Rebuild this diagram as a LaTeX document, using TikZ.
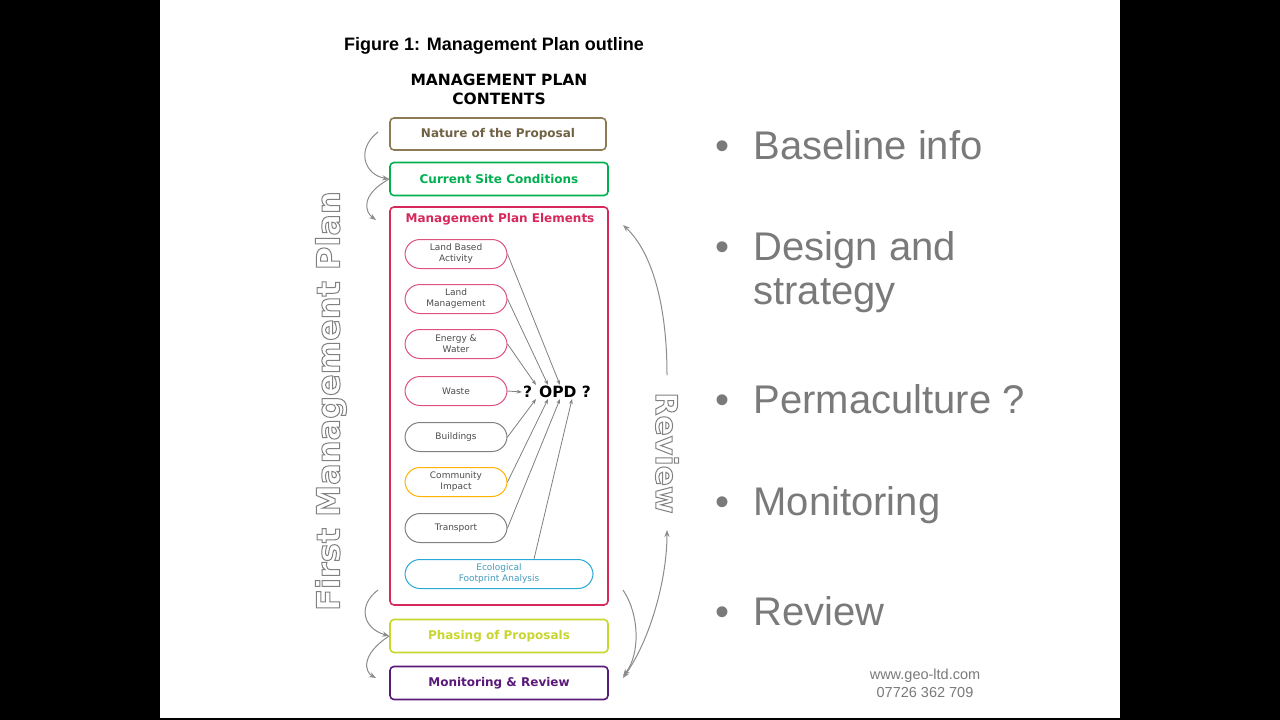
\documentclass[tikz,border=0pt]{standalone}
\usepackage{fontspec}
\setmainfont{Liberation Sans}
\newfontfamily\dejavu{DejaVu Sans}
\usetikzlibrary{arrows.meta}
\definecolor{natbrown}{HTML}{8C7B55}
\definecolor{sitegreen}{HTML}{00B050}
\definecolor{mpred}{HTML}{D6285A}
\definecolor{phyellow}{HTML}{C8D630}
\definecolor{monpurple}{HTML}{5A1A7A}
\definecolor{ecoblue}{HTML}{2AA8D8}
\definecolor{slidegray}{HTML}{7A7A7A}
\newcommand{\hollow}[1]{\special{pdf:literal direct 1 Tr 1 w}#1\special{pdf:literal direct 0 Tr}}
\begin{document}
\begin{tikzpicture}[x=1pt,y=-1pt]
\tikzset{section/.style={draw,rounded corners=4pt,line width=1.6pt,minimum width=216pt,minimum height=33pt,font=\dejavu\fontsize{12}{14}\selectfont\bfseries},
         element/.style={draw,rounded corners=15pt,line width=1pt,minimum width=102pt,minimum height=29pt,align=center,inner sep=1pt,font=\dejavu\fontsize{9}{11}\selectfont,text=black!70},
         feed/.style={draw=gray,-{Stealth[length=5pt]},line width=0.8pt},
         loop/.style={draw=gray!90,-{Stealth[length=7pt]},line width=1pt},
         point/.style={font=\fontsize{40}{44}\selectfont,text=slidegray,anchor=west,align=left}}
\fill[black] (0,0) rectangle (1280,720);
\fill[white] (160,0) rectangle (1120,718);
% heading
\node[font=\bfseries\fontsize{18}{20}\selectfont] (fig) at (494,46) {Figure 1: Management Plan outline};
\node[font=\dejavu\bfseries\fontsize{15.5}{19}\selectfont,align=center] (cont) at (499,89) {MANAGEMENT PLAN\\CONTENTS};
% sections
\node[section,draw=natbrown,text=natbrown!80!black,minimum height=32pt] (nat) at (498,134) {Nature of the Proposal};
\node[section,draw=sitegreen,text=sitegreen,minimum width=218pt] (site) at (499,179) {Current Site Conditions};
\draw[mpred,line width=1.6pt,rounded corners=4pt] (390,207) rectangle (608,605);
\node[font=\dejavu\fontsize{12}{14}\selectfont\bfseries,text=mpred] (mpe) at (500,219) {Management Plan Elements};
\node[section,draw=phyellow,text=phyellow,minimum width=218pt] (phase) at (499,636) {Phasing of Proposals};
\node[section,draw=monpurple,text=monpurple,minimum width=218pt] (mon) at (499,683) {Monitoring \& Review};
% elements
\node[element,draw=mpred!80] (lba) at (456,254) {Land Based\\Activity};
\node[element,draw=mpred!80] (lm) at (456,299) {Land\\Management};
\node[element,draw=mpred!80] (ew) at (456,344) {Energy \&\\Water};
\node[element,draw=mpred!80] (waste) at (456,391) {Waste};
\node[element,draw=gray] (bld) at (456,437) {Buildings};
\node[element,draw=orange!60!yellow] (ci) at (456,482) {Community\\Impact};
\node[element,draw=gray] (tr) at (456,528) {Transport};
\node[element,draw=ecoblue,minimum width=188pt,text=ecoblue!70!gray] (efa) at (499,574) {Ecological\\Footprint Analysis};
\node[font=\dejavu\bfseries\fontsize{15.5}{17}\selectfont,inner sep=1pt] (opd) at (557,392) {? OPD ?};
\draw[feed] (lba.east) -- ([xshift=3pt]opd.north);
\draw[feed] (lm.east) -- ([xshift=-9pt]opd.north);
\draw[feed] (ew.east) -- ([xshift=-21pt]opd.north);
\draw[feed] (waste.east) -- (opd.west);
\draw[feed] (bld.east) -- ([xshift=-21pt]opd.south);
\draw[feed] (ci.east) -- ([xshift=-9pt]opd.south);
\draw[feed] (tr.east) -- ([xshift=3pt]opd.south);
\draw[feed] ([xshift=35pt]efa.north) -- ([xshift=15pt]opd.south);
% flow on the left
\draw[loop] (378,132) .. controls (355,150) and (365,175) .. (site.west);
\draw[loop] (site.west) .. controls (360,195) and (365,212) .. (376,220);
\draw[loop] (378,590) .. controls (358,605) and (362,628) .. (phase.west);
\draw[loop] (phase.west) .. controls (360,655) and (365,672) .. (376,678);
% review loop on the right
\draw[loop] (667,375) .. controls (667,300) and (650,250) .. (623,225);
\draw[loop] (623,590) .. controls (640,615) and (640,655) .. (623,676);
\draw[loop,{Stealth[length=7pt]}-{Stealth[length=7pt]}] (623,678) .. controls (650,640) and (667,580) .. (667,530);
\node[rotate=90,font=\dejavu\bfseries\fontsize{32}{34}\selectfont,text=gray] (fmp) at (331,401) {\hollow{First Management Plan}};
\node[rotate=-90,font=\dejavu\bfseries\fontsize{30}{32}\selectfont,text=gray] (rev) at (667,453) {\hollow{Review}};
% slide points
\node[point] (p1) at (712,145) {\textbullet\hspace{24pt}Baseline info};
\node[point] (p2) at (712,272) {\textbullet\hspace{24pt}Design and\\\hspace*{38pt}strategy};
\node[point] (p3) at (712,399) {\textbullet\hspace{24pt}Permaculture ?};
\node[point] (p4) at (712,505) {\textbullet\hspace{24pt}Monitoring};
\node[point] (p5) at (712,611) {\textbullet\hspace{24pt}Review};
\node[font=\fontsize{14.5}{18}\selectfont,text=slidegray,align=center] (web) at (925,683) {www.geo-ltd.com\\07726 362 709};
\end{tikzpicture}
\end{document}
